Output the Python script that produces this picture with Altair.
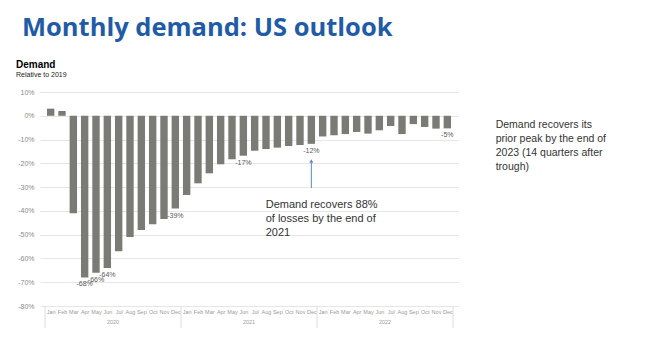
import altair as alt
import pandas as pd

months = ["Jan", "Feb", "Mar", "Apr", "May", "Jun", "Jul", "Aug", "Sep", "Oct", "Nov", "Dec"]
years = ["2020", "2021", "2022"]
demand = [3, 2, -41, -68, -66, -64, -57, -51, -48, -45.6, -43.4, -39,
          -33.3, -28.4, -24.2, -20.4, -18.3, -16.8, -14.7, -14.0, -13.4, -12.7, -12.3, -11.8,
          -8.7, -8.2, -7.7, -6.8, -7.5, -6.1, -4.3, -7.7, -3.5, -4.7, -5.4, -5.3]
label_idx = [3, 4, 5, 11, 17, 23, 35]
label_txt = ["-68%", "-66%", "-64%", "-39%", "-17%", "-12%", "-5%"]
y_ticks = [10, 0, -10, -20, -30, -40, -50, -60, -70, -80]

title_txt = "Monthly demand: US outlook"
chart_title = "Demand"
chart_sub = "Relative to 2019"
note_mid = "Demand recovers 88%\nof losses by the end of\n2021"
note_right = "Demand recovers its\nprior peak by the end of\n2023 (14 quarters after\ntrough)"

FONT = "Liberation Sans"

n = len(demand)
bars_df = pd.DataFrame({
    "pos": [i + 0.5 for i in range(n)],
    "month": [months[i % 12] for i in range(n)],
    "year": [years[i // 12] for i in range(n)],
    "demand": demand,
})
lab_df = pd.DataFrame({
    "pos": [i + 0.5 for i in label_idx],
    "demand": [demand[i] for i in label_idx],
    "txt": label_txt,
})
sep_df = pd.DataFrame({"pos": [12 * k for k in range(len(years) + 1)]})
year_df = pd.DataFrame({"pos": [12 * k + 6 for k in range(len(years))], "year": years})
arrow_df = pd.DataFrame({"pos": [23.5], "demand": [-30.4], "y2": [-19.8], "head": [-19.0]})

month_js = "[" + ",".join("'" + m + "'" for m in months) + "]"
xscale = alt.Scale(domain=[0, n], nice=False, zero=False)
yscale = alt.Scale(domain=[-80, 10], nice=False)

x_axis = alt.Axis(
    values=[i + 0.5 for i in range(n)],
    labelExpr=month_js + "[floor(datum.value) % 12]",
    title=None, grid=False, domain=False, ticks=False, labelPadding=3,
    labelFontSize=5.5, labelColor="#9a9a9a", labelFont=FONT, labelAngle=0,
    labelOverlap=False, labelBound=False, labelFlush=False,
)
y_axis = alt.Axis(
    values=y_ticks, labelExpr="datum.value + '%'", title=None,
    grid=True, gridColor="#e6e6e6", gridWidth=1, domain=False, ticks=False,
    labelPadding=6, labelFontSize=7, labelColor="#8a8a8a", labelFont=FONT,
    labelOverlap=False, labelFlush=False,
)


def xq():
    return alt.X("pos:Q", scale=xscale, axis=x_axis, title=None)


def yq(field):
    return alt.Y(field, scale=yscale, axis=y_axis, title=None)


bars = alt.Chart(bars_df).mark_bar(width=7.4, color="#7b7b76").encode(
    x=xq(), y=yq("demand:Q"))

labels = alt.Chart(lab_df).mark_text(
    fontSize=7, color="#595959", font=FONT, baseline="middle", dy=7
).encode(x=xq(), y=yq("demand:Q"), text="txt:N")

seps = alt.Chart(sep_df).mark_rule(color="#dcdcdc", strokeWidth=1).encode(
    x=xq(), y=alt.value(214), y2=alt.value(236))

year_lbl = alt.Chart(year_df).mark_text(
    fontSize=5.5, color="#9a9a9a", font=FONT, baseline="middle"
).encode(x=xq(), y=alt.value(230), text="year:N")

arrow_line = alt.Chart(arrow_df).mark_rule(color="#5a86bf", strokeWidth=1).encode(
    x=xq(), y=yq("demand:Q"), y2="y2:Q")
arrow_head = alt.Chart(arrow_df).mark_point(
    shape="triangle-up", filled=True, size=16, color="#5a86bf", opacity=1
).encode(x=xq(), y=yq("head:Q"))


def txt(s, x, y, size, color, weight="normal", font=FONT, lh=None):
    kw = dict(align="left", baseline="alphabetic", fontSize=size, color=color,
              fontWeight=weight, font=font, lineBreak="\n")
    if lh:
        kw["lineHeight"] = lh
    return alt.Chart(pd.DataFrame({"t": [s]})).mark_text(**kw).encode(
        x=alt.value(x), y=alt.value(y), text="t:N")


title = txt(title_txt, -18, -56, 25.5, "#1f5ba6", weight="bold", font="Open Sans")
ct = txt(chart_title, -24, -24.3, 10, "#000000", weight="bold")
cs = txt(chart_sub, -24, -14.7, 7, "#222222")
nm = txt(note_mid, 225.7, 116.3, 11, "#333333", lh=14)
nr = txt(note_right, 455.7, 36.3, 10.5, "#333333", lh=14)

chart = alt.layer(
    bars, labels, seps, year_lbl, arrow_line, arrow_head, title, ct, cs, nm, nr
).properties(
    width=418, height=214,
    autosize=alt.AutoSizeParams(type="none"),
    padding={"left": 32, "top": 84, "right": 184, "bottom": 48},
    background="white",
).configure_view(stroke=None)

chart.save("out.html", embed_options={"renderer": "svg", "actions": False})
